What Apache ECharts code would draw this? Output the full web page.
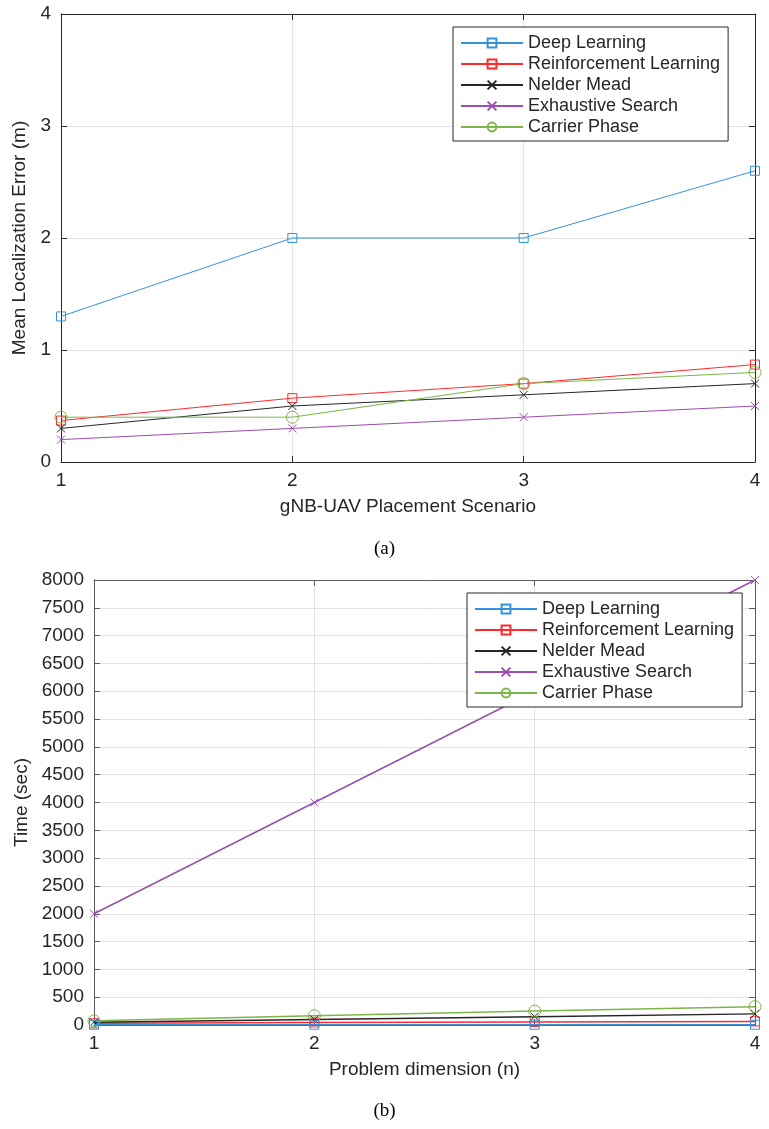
<!DOCTYPE html>
<html>
<head>
<meta charset="utf-8">
<script src="https://cdn.jsdelivr.net/npm/echarts@6/dist/echarts.min.js"></script>
<style>
html,body{margin:0;padding:0;background:#fff;}
#chart{width:769px;height:1129px;}
</style>
</head>
<body>
<div id="chart"></div>
<script>
// ---- data ----
const scenarios = [1, 2, 3, 4];
const dimensions = [1, 2, 3, 4];
const seriesNames = ['Deep Learning', 'Reinforcement Learning', 'Nelder Mead', 'Exhaustive Search', 'Carrier Phase'];
const errDeep = [1.3, 2.0, 2.0, 2.6];
const errRL = [0.37, 0.57, 0.70, 0.87];
const errNM = [0.30, 0.50, 0.60, 0.70];
const errES = [0.20, 0.30, 0.40, 0.50];
const errCP = [0.40, 0.40, 0.70, 0.80];
const timeDeep = [5, 5, 5, 5];
const timeRL = [30, 45, 55, 65];
const timeNM = [50, 100, 150, 200];
const timeES = [2000, 4000, 6000, 8000];
const timeCP = [75, 165, 250, 330];
const xTitleA = 'gNB-UAV Placement Scenario';
const yTitleA = 'Mean Localization Error (m)';
const xTitleB = 'Problem dimension (n)';
const yTitleB = 'Time (sec)';
const captionA = '(a)';
const captionB = '(b)';

// ---- styles ----
const colors = ['#3593DC', '#FF2A2A', '#262626', '#9B4DB0', '#7DB548'];
const XPATH = 'path://M0,0L10,10M10,0L0,10';
const symbols = ['rect', 'rect', XPATH, XPATH, 'circle'];
const symbolSizes = [9, 9, 8, 8, 12];
const FONT = 'Liberation Sans, Arial, sans-serif';

function pairs(xs, ys) { return xs.map((x, i) => [x, ys[i]]); }

function makeSeries(dataSets, xs, xi, yi, lw) {
  return dataSets.map((d, k) => ({
    name: seriesNames[k],
    type: 'line',
    xAxisIndex: xi,
    yAxisIndex: yi,
    data: pairs(xs, d),
    symbol: symbols[k],
    symbolSize: symbolSizes[k],
    showAllSymbol: true,
    lineStyle: { color: colors[k], width: lw },
    itemStyle: { color: 'rgba(0,0,0,0)', borderColor: colors[k], borderWidth: 1 },
    emphasis: { disabled: true },
    animation: false,
    z: k === 0 ? 3 : 2
  }));
}

const plain = v => String(v);

function xAxisMain(grid, name, axisColor) {
  return {
    type: 'value', gridIndex: grid, min: 1, max: 4, interval: 1,
    name: name, nameLocation: 'middle', nameGap: 35,
    nameTextStyle: { fontFamily: FONT, fontSize: 19, color: '#262626' },
    axisLine: { show: true, lineStyle: { color: axisColor, width: 1 } },
    axisTick: { show: true, inside: true, length: 6, lineStyle: { color: axisColor } },
    axisLabel: { fontFamily: FONT, fontSize: 19, color: '#262626', margin: 9, formatter: plain },
    splitLine: { show: true, lineStyle: { color: '#e3e3e3', width: 1 } }
  };
}
function xAxisTop(grid, axisColor) {
  return {
    type: 'value', gridIndex: grid, min: 1, max: 4, interval: 1, position: 'top',
    axisLine: { show: true, onZero: false, lineStyle: { color: axisColor, width: 1 } },
    axisTick: { show: true, inside: true, length: 6, lineStyle: { color: axisColor } },
    axisLabel: { show: false }, splitLine: { show: false }
  };
}
function yAxisMain(grid, name, max, interval, gap, axisColor) {
  return {
    type: 'value', gridIndex: grid, min: 0, max: max, interval: interval,
    name: name, nameLocation: 'middle', nameGap: gap,
    nameTextStyle: { fontFamily: FONT, fontSize: 19, color: '#262626' },
    axisLine: { show: true, onZero: false, lineStyle: { color: axisColor, width: 1 } },
    axisTick: { show: true, inside: true, length: 6, lineStyle: { color: axisColor } },
    axisLabel: { fontFamily: FONT, fontSize: 19, color: '#262626', margin: 10, formatter: plain },
    splitLine: { show: true, lineStyle: { color: '#e3e3e3', width: 1 } }
  };
}
function yAxisRight(grid, max, interval, axisColor) {
  return {
    type: 'value', gridIndex: grid, min: 0, max: max, interval: interval, position: 'right',
    axisLine: { show: true, onZero: false, lineStyle: { color: axisColor, width: 1 } },
    axisTick: { show: true, inside: true, length: 6, lineStyle: { color: axisColor } },
    axisLabel: { show: false }, splitLine: { show: false }
  };
}
function legendAt(left, top) {
  return {
    orient: 'vertical', left: left, top: top,
    data: seriesNames,
    itemWidth: 62, itemHeight: 11, itemGap: 3,
    padding: [7, 8, 5, 7],
    backgroundColor: '#ffffff',
    borderColor: '#262626', borderWidth: 1,
    textStyle: { fontFamily: FONT, fontSize: 18, color: '#262626' },
    selectedMode: false,
    z: 10
  };
}

const chart = echarts.init(document.getElementById('chart'), null, { renderer: 'canvas' });
const axA = '#262626';
const axB = '#5a5a5a';
chart.setOption({
  backgroundColor: '#ffffff',
  animation: false,
  grid: [
    { left: 61, right: 14, top: 14, height: 448 },
    { left: 94, right: 14, top: 580, height: 445 }
  ],
  xAxis: [
    xAxisMain(0, xTitleA, axA), xAxisTop(0, axA),
    xAxisMain(1, xTitleB, axB), xAxisTop(1, axB)
  ],
  yAxis: [
    yAxisMain(0, yTitleA, 4, 1, 30, axA), yAxisRight(0, 4, 1, axA),
    yAxisMain(1, yTitleB, 8000, 500, 61, axB), yAxisRight(1, 8000, 500, axB)
  ],
  legend: [legendAt(453, 27), legendAt(467, 593)],
  series: [].concat(
    makeSeries([errDeep, errRL, errNM, errES, errCP], scenarios, 0, 0, 1),
    makeSeries([timeDeep, timeRL, timeNM, timeES, timeCP], dimensions, 2, 2, 1.5)
  ),
  graphic: [
    { type: 'text', left: 'center', top: 540, style: { text: captionA, font: '19px "Liberation Serif", "Times New Roman", serif', fill: '#000' } },
    { type: 'text', left: 'center', top: 1102, style: { text: captionB, font: '19px "Liberation Serif", "Times New Roman", serif', fill: '#000' } }
  ]
});
</script>
</body>
</html>
